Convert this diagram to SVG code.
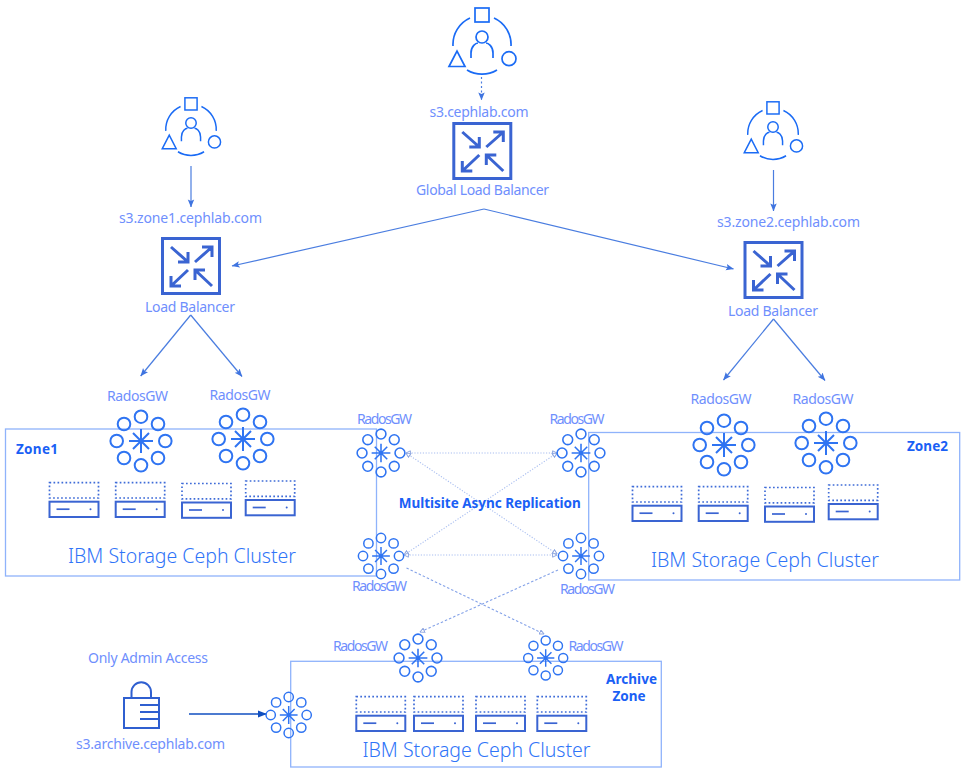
<svg xmlns="http://www.w3.org/2000/svg" width="968" height="771" viewBox="0 0 968 771">
<style>
text{font-family:"Noto Sans","Liberation Sans",sans-serif;fill:#6f8ffd;font-size:14px;text-anchor:middle}
.big{font-family:"Noto Sans","Liberation Sans",sans-serif;font-size:19.500px;font-weight:300;fill:#2f74f8}
.b{font-weight:700;fill:#1a60f5;font-size:13.500px}
.zone{fill:none;stroke:#8fb3fb;stroke-width:1.300}
.blue{fill:none;stroke:#1a6bf5;stroke-width:1.700}
.lb{fill:none;stroke:#3a64d2;stroke-width:3}
.c{fill:none;stroke:#4a7de0;stroke-width:1.200}
.d{fill:none;stroke:#a9bef0;stroke-width:1.100;stroke-dasharray:1.200 1.600}
.e{fill:none;stroke:#84a2e8;stroke-width:1.100;stroke-dasharray:2.500 2}
</style>
<defs>
<marker id="ah" viewBox="0 0 10 10" refX="9.500" refY="5" markerWidth="8" markerHeight="8" markerUnits="userSpaceOnUse" orient="auto"><path d="M0 1L10 5L0 9L2 5Z" fill="#3f74e0"/></marker>
<marker id="ad" viewBox="0 0 10 10" refX="9" refY="5" markerWidth="9" markerHeight="9" markerUnits="userSpaceOnUse" orient="auto"><path d="M0 1L10 5L0 9Z" fill="#104fc0"/></marker>
<marker id="al" viewBox="0 0 10 10" refX="9" refY="5" markerWidth="5.500" markerHeight="5.500" markerUnits="userSpaceOnUse" orient="auto-start-reverse"><path d="M1 1L9 5L1 9Z" fill="#fff" stroke="#8ea6e0" stroke-width="1.800"/></marker>
<g id="users" class="blue">
<rect x="-7" y="-37" width="14" height="14"/>
<circle cx="27" cy="13.700" r="7"/>
<path d="M-33 21.500L-25 6L-17 21.500Z"/>
<circle cx="0" cy="-8" r="6"/>
<path d="M-11 13V8C-11 1 -6 -2 -4 -2M11 13V8C11 1 6 -2 4 -2"/>
<path d="M-29 1A29 29 0 0 1 -12 -27M12 -27A29 29 0 0 1 29 1M-15 25A29 29 0 0 0 15 25"/>
</g>
<g id="lbi">
<rect x="-28.500" y="-27.500" width="57" height="55" class="lb"/>
<path class="lb" d="M-20 -19L-3 -4M-3 -14V-4H-13M4 -4L21 -19M11 -19H21V-9M-3 4L-20 20M-20 10V20H-10M21 20L4 4M4 14V4H14"/>
</g>
<g id="rgw">
<g fill="none" stroke="#2f74f2" stroke-width="2">
<circle cx="0" cy="-24.300" r="6.300"/><circle cx="17" cy="-17" r="6.300"/><circle cx="24.300" cy="0" r="6.300"/><circle cx="17" cy="17" r="6.300"/><circle cx="0" cy="24.300" r="6.300"/><circle cx="-17" cy="17" r="6.300"/><circle cx="-24.300" cy="0" r="6.300"/><circle cx="-17" cy="-17" r="6.300"/>
<path d="M-12 0H12M0 -12V12M-8 -8L8 8M-8 8L8 -8"/>
</g>
</g>
<g id="srv">
<rect x="0" y="0" width="49" height="15.300" fill="none" stroke="#3f6cd8" stroke-width="1.700" stroke-dasharray="1.700 2.300"/>
<rect x="0" y="19" width="49" height="15.300" fill="none" stroke="#3a64d2" stroke-width="2"/>
<path d="M7 26.500H20" stroke="#3a64d2" stroke-width="1.700"/>
<circle cx="41" cy="26.500" r="1" fill="#3a64d2"/>
</g>
</defs>

<g id="zones">
<rect id="zone1-box" class="zone" x="5.500" y="429" width="371" height="147"/>
<rect id="zone2-box" class="zone" x="588.700" y="432.500" width="371" height="147.500"/>
<rect id="archive-box" class="zone" x="290.700" y="661.300" width="370.600" height="105.700"/>
</g>

<g id="connectors">
<path class="c" marker-end="url(#ah)" d="M191 166V207"/>
<path class="c" marker-end="url(#ah)" d="M773.500 170V211"/>
<path class="c" stroke-dasharray="2 2.500" marker-end="url(#ah)" d="M481.500 77V100"/>
<path class="c" marker-end="url(#ah)" d="M484 209L232 266"/>
<path class="c" marker-end="url(#ah)" d="M484 209L733.500 269"/>
<path class="c" marker-end="url(#ah)" d="M190.700 315L140.700 376"/>
<path class="c" marker-end="url(#ah)" d="M190.700 315L242 376.500"/>
<path class="c" marker-end="url(#ah)" d="M773.500 319L723.500 380"/>
<path class="c" marker-end="url(#ah)" d="M773.500 319L825 380.500"/>
<path fill="none" stroke="#104fc0" stroke-width="1.300" marker-end="url(#ad)" d="M189 714H266"/>
<path class="d" marker-start="url(#al)" marker-end="url(#al)" d="M406 453H557"/>
<path class="d" marker-start="url(#al)" marker-end="url(#al)" d="M406 453L557 554"/>
<path class="d" marker-start="url(#al)" marker-end="url(#al)" d="M404 555L557 453"/>
<path class="d" marker-start="url(#al)" marker-end="url(#al)" d="M404 555H557"/>
<path class="e" marker-end="url(#al)" d="M406.500 568L544 634"/>
<path class="e" marker-end="url(#al)" d="M558 570L420 632"/>
</g>

<g id="node-client-global"><use href="#users" x="482" y="45"/><text x="479" y="117" textLength="99">s3.cephlab.com</text></g>
<g id="node-client-zone1"><use href="#users" transform="translate(191 130) scale(.87)"/><text x="190.500" y="223" textLength="143">s3.zone1.cephlab.com</text></g>
<g id="node-client-zone2"><use href="#users" transform="translate(773 134) scale(.87)"/><text x="788.500" y="227" textLength="143">s3.zone2.cephlab.com</text></g>

<g id="node-glb"><use href="#lbi" x="482.300" y="151"/><text x="482.500" y="195" textLength="133">Global Load Balancer</text></g>
<g id="node-lb1"><use href="#lbi" x="191" y="266"/><text x="190" y="312" textLength="90">Load Balancer</text></g>
<g id="node-lb2"><use href="#lbi" x="773.500" y="270"/><text x="773" y="316" textLength="90">Load Balancer</text></g>

<g id="node-zone1">
<text class="b" x="37" y="454" textLength="42">Zone1</text>
<text x="137.500" y="401" textLength="61">RadosGW</text><use href="#rgw" x="141" y="441"/>
<text x="240" y="400" textLength="61">RadosGW</text><use href="#rgw" x="243" y="439"/>
<use href="#srv" x="49.500" y="482.700"/><use href="#srv" x="115.700" y="482.700"/><use href="#srv" x="182" y="483.500"/><use href="#srv" x="245.700" y="481"/>
<text class="big" x="182" y="563" textLength="228">IBM Storage Ceph Cluster</text>
</g>
<g id="node-zone2">
<text class="b" x="927.500" y="451" textLength="41">Zone2</text>
<text x="721" y="404" textLength="61">RadosGW</text><use href="#rgw" x="724" y="445"/>
<text x="823" y="404" textLength="61">RadosGW</text><use href="#rgw" x="826" y="443"/>
<use href="#srv" x="632.500" y="486.700"/><use href="#srv" x="698.700" y="486.700"/><use href="#srv" x="765" y="487.500"/><use href="#srv" x="828.700" y="485"/>
<text class="big" x="765" y="567" textLength="228">IBM Storage Ceph Cluster</text>
</g>
<g id="node-multisite">
<text x="384.500" y="424" textLength="55">RadosGW</text><use href="#rgw" transform="translate(381 453) scale(.78)"/>
<text x="577" y="424" textLength="55">RadosGW</text><use href="#rgw" transform="translate(581 453) scale(.78)"/>
<text x="379.500" y="591" textLength="55">RadosGW</text><use href="#rgw" transform="translate(381 556) scale(.74)"/>
<text x="587.500" y="594" textLength="55">RadosGW</text><use href="#rgw" transform="translate(581 556) scale(.74)"/>
<text class="b" x="489.700" y="508" textLength="182">Multisite Async Replication</text>
</g>
<g id="node-archive">
<text class="b" x="631.500" y="683.500" textLength="51">Archive</text><text class="b" x="629" y="700.500" textLength="33">Zone</text>
<text x="360.500" y="651" textLength="55">RadosGW</text><use href="#rgw" transform="translate(418 658) scale(.78)"/>
<text x="596" y="651" textLength="55">RadosGW</text><use href="#rgw" transform="translate(545.700 658) scale(.72)"/>
<use href="#srv" x="356.300" y="696.700"/><use href="#srv" x="414" y="696.700"/><use href="#srv" x="476" y="696.700"/><use href="#srv" x="537.300" y="696.700"/>
<text class="big" x="476.500" y="757" textLength="228">IBM Storage Ceph Cluster</text>
<use href="#rgw" transform="translate(288.700 715) scale(.74)"/>
</g>
<g id="node-admin">
<text x="148" y="663" textLength="120">Only Admin Access</text>
<g fill="none" stroke="#2f5fd0" stroke-width="2">
<rect x="124" y="698" width="35" height="30"/>
<path d="M131.500 698V692A9.700 9.700 0 0 1 151 692V698M140 705H159M140 712H159M140 719H159"/>
</g>
<text x="150.500" y="749" textLength="149">s3.archive.cephlab.com</text>
</g>
</svg>
